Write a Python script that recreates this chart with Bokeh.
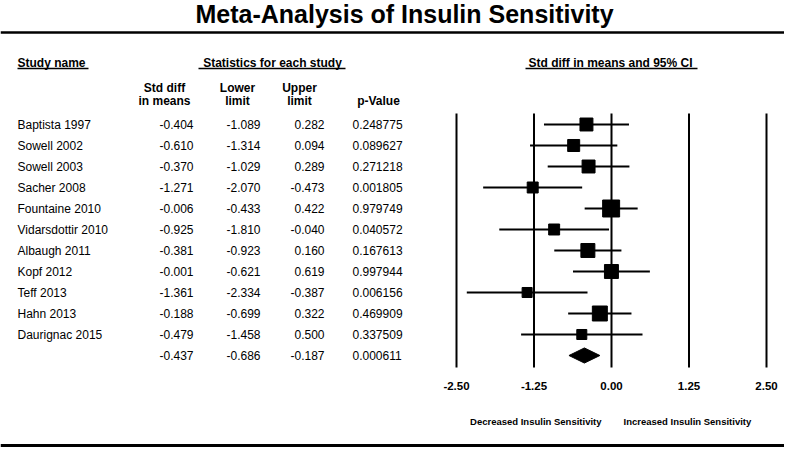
import math
from bokeh.plotting import figure
from bokeh.models import Range1d, ColumnDataSource
from bokeh.core.properties import value
from bokeh.embed import file_html
from bokeh.resources import INLINE

# ---------------- data ----------------
title = "Meta-Analysis of Insulin Sensitivity"
studies = ["Baptista 1997", "Sowell 2002", "Sowell 2003", "Sacher 2008",
           "Fountaine 2010", "Vidarsdottir 2010", "Albaugh 2011", "Kopf 2012",
           "Teff 2013", "Hahn 2013", "Daurignac 2015"]
std_diff = [-0.404, -0.610, -0.370, -1.271, -0.006, -0.925, -0.381, -0.001, -1.361, -0.188, -0.479]
lower = [-1.089, -1.314, -1.029, -2.070, -0.433, -1.810, -0.923, -0.621, -2.334, -0.699, -1.458]
upper = [0.282, 0.094, 0.289, -0.473, 0.422, -0.040, 0.160, 0.619, -0.387, 0.322, 0.500]
p_value = [0.248775, 0.089627, 0.271218, 0.001805, 0.979749, 0.040572,
           0.167613, 0.997944, 0.006156, 0.469909, 0.337509]
rel_weight = [9.2, 7.9, 9.2, 6.6, 15.8, 6.6, 10.7, 10.7, 5.5, 12.3, 5.5]
summary_diff = -0.437
summary_lower = -0.686
summary_upper = -0.187
summary_p = 0.000611
ticks = [-2.5, -1.25, 0.0, 1.25, 2.5]
tick_labels = ["-2.50", "-1.25", "0.00", "1.25", "2.50"]

# ---------------- layout (pixel space) ----------------
W, H = 784, 447
ZERO_X, PX_PER_UNIT = 611, 62.0
ROW0_Y, ROW_H = 124, 21.0
FONT = value("Liberation Sans")

def row_of(y):
    return (y - ROW0_Y) / ROW_H

p = figure(width=W, height=H, x_range=Range1d(0, W), y_range=Range1d(start=H, end=0),
           output_backend="svg", toolbar_location=None, min_border=0,
           x_axis_location=None, y_axis_location=None)
p.grid.visible = False
p.outline_line_color = None
p.background_fill_color = "white"
p.border_fill_color = "white"
p.extra_x_ranges = {"es": Range1d((0 - ZERO_X) / PX_PER_UNIT, (W - ZERO_X) / PX_PER_UNIT)}
p.extra_y_ranges = {"row": Range1d(start=row_of(H), end=row_of(0))}

n = len(studies)
rows = list(range(n))
src = ColumnDataSource(dict(
    row=rows, name=studies,
    diff=std_diff, lo=lower, up=upper,
    diff_s=[f"{v:.3f}" for v in std_diff],
    lo_s=[f"{v:.3f}" for v in lower],
    up_s=[f"{v:.3f}" for v in upper],
    p_s=[f"{v:.6f}" for v in p_value],
    size=[4.27 * math.sqrt(w) for w in rel_weight],
))
sum_row = n
sum_src = ColumnDataSource(dict(
    row=[sum_row],
    diff_s=[f"{summary_diff:.3f}"], lo_s=[f"{summary_lower:.3f}"],
    up_s=[f"{summary_upper:.3f}"], p_s=[f"{summary_p:.6f}"],
))

# title and rules
p.text(x=[404], y=[13.5], text=[title], text_font=FONT, text_font_style="bold",
       text_font_size="25px", text_align="center", text_baseline="middle", text_color="black")
p.segment(x0=[0, 0], y0=[32, 445], x1=[W, W], y1=[32, 445],
          line_width=[2.5, 3], line_color="black")

# section headers
hdr_kw = dict(text_font=FONT, text_font_style="bold", text_font_size="12px",
              text_baseline="middle", text_color="black")
p.text(x=[17], y=[62], text=["Study name"], text_align="left", **hdr_kw)
p.text(x=[272], y=[62], text=["Statistics for each study"], text_align="center", **hdr_kw)
p.text(x=[610], y=[62], text=["Std diff in means and 95% CI"], text_align="center", **hdr_kw)
p.segment(x0=[17, 198, 525], y0=[68, 68, 68], x1=[88, 345, 697], y1=[68, 68, 68],
          line_width=1.3, line_color="black")

# column headers
p.text(x=[164, 164, 237, 237, 299, 299, 378],
       y=[87, 100, 87, 100, 87, 100, 100],
       text=["Std diff", "in means", "Lower", "limit", "Upper", "limit", "p-Value"],
       text_align="center", **hdr_kw)

# table body
cell_kw = dict(text_font=FONT, text_font_size="12px", text_baseline="middle",
               text_color="black", y_range_name="row")
for s in (src, sum_src):
    p.text(x=193, y="row", text="diff_s", source=s, text_align="right", **cell_kw)
    p.text(x=260, y="row", text="lo_s", source=s, text_align="right", **cell_kw)
    p.text(x=324, y="row", text="up_s", source=s, text_align="right", **cell_kw)
    p.text(x=352, y="row", text="p_s", source=s, text_align="left", **cell_kw)
p.text(x=17, y="row", text="name", source=src, text_align="left", **cell_kw)

# forest plot: reference lines
p.segment(x0=ticks, y0=[row_of(113)] * len(ticks), x1=ticks, y1=[row_of(367)] * len(ticks),
          line_width=2, line_color="black", x_range_name="es", y_range_name="row")
# whiskers and squares
p.segment(x0="lo", y0="row", x1="up", y1="row", source=src, line_width=2,
          line_color="black", x_range_name="es", y_range_name="row")
p.scatter(x="diff", y="row", size="size", marker="square", source=src,
          fill_color="black", line_color="black", x_range_name="es", y_range_name="row")
# summary diamond
hh = 0.36
p.patch(x=[summary_lower, summary_diff, summary_upper, summary_diff],
        y=[sum_row, sum_row - hh, sum_row, sum_row + hh],
        fill_color="black", line_color="black", x_range_name="es", y_range_name="row")

# tick labels
p.text(x=ticks, y=[row_of(385)] * len(ticks), text=tick_labels, text_font=FONT,
       text_font_style="bold", text_font_size="11.5px", text_align="center",
       text_baseline="middle", text_color="black", x_range_name="es", y_range_name="row")

# direction labels
dir_kw = dict(text_font=FONT, text_font_style="bold", text_font_size="9.5px",
              text_baseline="middle", text_color="black", x_range_name="es")
p.text(x=[0], y=[421], text=["Decreased Insulin Sensitivity"], text_align="right",
       x_offset=-10, **dir_kw)
p.text(x=[0], y=[421], text=["Increased Insulin Sensitivity"], text_align="left",
       x_offset=12, **dir_kw)

open("out.html", "w").write(file_html(p, INLINE))
